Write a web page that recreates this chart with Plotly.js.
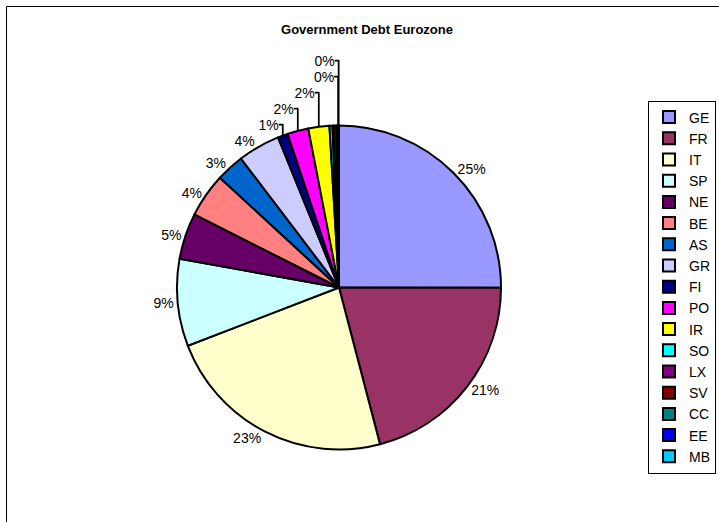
<!DOCTYPE html>
<html>
<head>
<meta charset="utf-8">
<script src="https://cdn.plot.ly/plotly-3.0.1.min.js"></script>
<style>html,body{margin:0;padding:0;background:#fff;}#chart{width:719px;height:522px;}</style>
</head>
<body>
<div id="chart"></div>
<script>
// Country codes (legend order)
var countries = ['GE','FR','IT','SP','NE','BE','AS','GR','FI','PO','IR','SO','LX','SV','CC','EE','MB'];
// Share of eurozone government debt (relative values)
var debtShare = [25.0, 20.9, 23.2, 8.7, 4.6, 4.4, 2.8, 4.2, 1.0, 2.1, 2.1, 0.3, 0.1, 0.3, 0.15, 0.02, 0.07];
// Where each slice label is drawn (the tiniest slices overlap into one blob in the original)
var labelPos = ['outside','outside','outside','outside','outside','outside','outside','outside',
                'outside','outside','outside','inside','inside','inside','inside','outside','outside'];
// Slice colours
var sliceColors = ['#9999FF','#993366','#FFFFCC','#CCFFFF','#660066','#FF8080','#0066CC','#CCCCFF',
                   '#000080','#FF00FF','#FFFF00','#00FFFF','#800080','#800000','#008080','#0000FF','#00CCFF'];

var W = 719, H = 522;
var cx = 339, cy = 287.5, r = 162;
var FONT = 'Liberation Sans, Arial, sans-serif';

var trace = {
  type: 'pie',
  labels: countries,
  values: debtShare,
  sort: false,
  direction: 'clockwise',
  rotation: 0,
  marker: {colors: sliceColors, line: {color: '#000000', width: 2}},
  textposition: labelPos,
  texttemplate: '%{percent:.0%}',
  textfont: {family: FONT, size: 14, color: '#000000'},
  outsidetextfont: {family: FONT, size: 14, color: '#000000'},
  insidetextfont: {family: FONT, size: 14, color: '#000000'},
  hoverinfo: 'label+percent',
  automargin: false,
  domain: {
    x: [(cx - r) / W, (cx + r) / W],
    y: [(H - cy - r) / H, (H - cy + r) / H]
  }
};

var layout = {
  width: W, height: H,
  margin: {l: 0, r: 0, t: 0, b: 0, autoexpand: false},
  paper_bgcolor: '#ffffff',
  font: {family: FONT, color: '#000000'},
  title: {
    text: '<b>Government Debt Eurozone</b>',
    font: {family: FONT, size: 13, color: '#000000'},
    x: 367 / W, xanchor: 'center',
    y: 1 - 29 / H, yanchor: 'middle'
  },
  showlegend: true,
  legend: {
    x: 648 / W, xanchor: 'left',
    y: 1 - 287 / H, yanchor: 'middle',
    bordercolor: '#000000', borderwidth: 1,
    bgcolor: '#ffffff',
    font: {family: FONT, size: 14, color: '#000000'},
    itemwidth: 30,
    traceorder: 'normal'
  },
  shapes: [{
    type: 'rect', xref: 'paper', yref: 'paper',
    x0: 6.5 / W, x1: 1.02, y0: -0.02, y1: 1 - 6.5 / H,
    line: {color: '#000000', width: 1}, fillcolor: 'rgba(0,0,0,0)', layer: 'below'
  }]
};

Plotly.newPlot('chart', [trace], layout, {displayModeBar: false, staticPlot: true});
</script>
</body>
</html>
